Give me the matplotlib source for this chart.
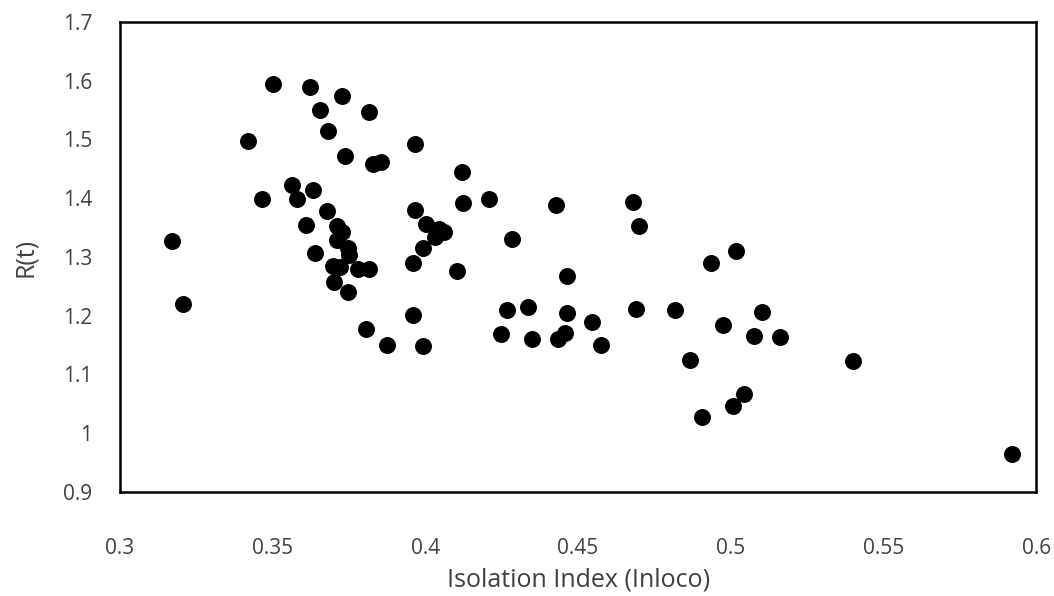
import numpy as np
import matplotlib.pyplot as plt

plt.rcParams['font.family'] = ['Open Sans', 'DejaVu Sans']

# isolation index (x) and R(t) (y)
isolation = [0.3171, 0.3207, 0.3418, 0.3466, 0.3500, 0.3564, 0.3579, 0.3608,
             0.3623, 0.3633, 0.3639, 0.3654, 0.3678, 0.3682, 0.3702, 0.3698,
             0.3712, 0.3726, 0.3712, 0.3745, 0.3751, 0.3727, 0.3737, 0.3720,
             0.3780, 0.3815, 0.3746, 0.3805, 0.3815, 0.3827, 0.3855, 0.3873,
             0.3960, 0.3960, 0.3965, 0.3966, 0.3991, 0.3991, 0.4002, 0.4031,
             0.4046, 0.4062, 0.4105, 0.4119, 0.4124, 0.4208, 0.4246, 0.4266,
             0.4283, 0.4335, 0.4349, 0.4428, 0.4433, 0.4457, 0.4463, 0.4463,
             0.4546, 0.4576, 0.4679, 0.4689, 0.4699, 0.4817, 0.4865, 0.4905,
             0.4934, 0.4975, 0.5007, 0.5017, 0.5042, 0.5076, 0.5101, 0.5160,
             0.5400, 0.5921]
rt = [1.327, 1.220, 1.497, 1.398, 1.594, 1.423, 1.398, 1.354,
      1.589, 1.414, 1.306, 1.551, 1.378, 1.515, 1.258, 1.285,
      1.352, 1.342, 1.329, 1.316, 1.303, 1.574, 1.472, 1.283,
      1.279, 1.279, 1.241, 1.177, 1.546, 1.459, 1.462, 1.150,
      1.289, 1.201, 1.380, 1.493, 1.316, 1.149, 1.357, 1.334,
      1.347, 1.342, 1.276, 1.444, 1.392, 1.398, 1.169, 1.209,
      1.330, 1.215, 1.160, 1.388, 1.160, 1.171, 1.268, 1.205,
      1.189, 1.151, 1.393, 1.212, 1.352, 1.209, 1.125, 1.028,
      1.289, 1.184, 1.046, 1.311, 1.067, 1.166, 1.206, 1.164,
      1.123, 0.965]

fig = plt.figure(figsize=(10.54, 5.96), dpi=100)
ax = fig.add_axes([0.1139, 0.1745, 0.8691, 0.7886])
ax.scatter(isolation, rt, s=125, color='black', zorder=3)

ax.set_xlim(0.3, 0.6)
ax.set_ylim(0.9, 1.7)
ax.set_xticks(np.arange(0.3, 0.601, 0.05))
ax.set_xticklabels(['0.3', '0.35', '0.4', '0.45', '0.5', '0.55', '0.6'])
ax.set_yticks(np.arange(0.9, 1.701, 0.1))
ax.set_yticklabels(['0.9', '1', '1.1', '1.2', '1.3', '1.4', '1.5', '1.6', '1.7'])
ax.tick_params(axis='x', length=0, pad=33, labelsize=15, colors='#404040')
ax.tick_params(axis='y', length=0, pad=20, labelsize=15, colors='#404040')
for sp in ax.spines.values():
    sp.set_linewidth(1.8)
    sp.set_color('black')

ax.set_xlabel('Isolation Index (Inloco)', fontsize=18, color='#404040', labelpad=6)
ax.set_ylabel('R(t)', fontsize=18, color='#404040', labelpad=18)

fig.savefig('out.png', dpi=100)
